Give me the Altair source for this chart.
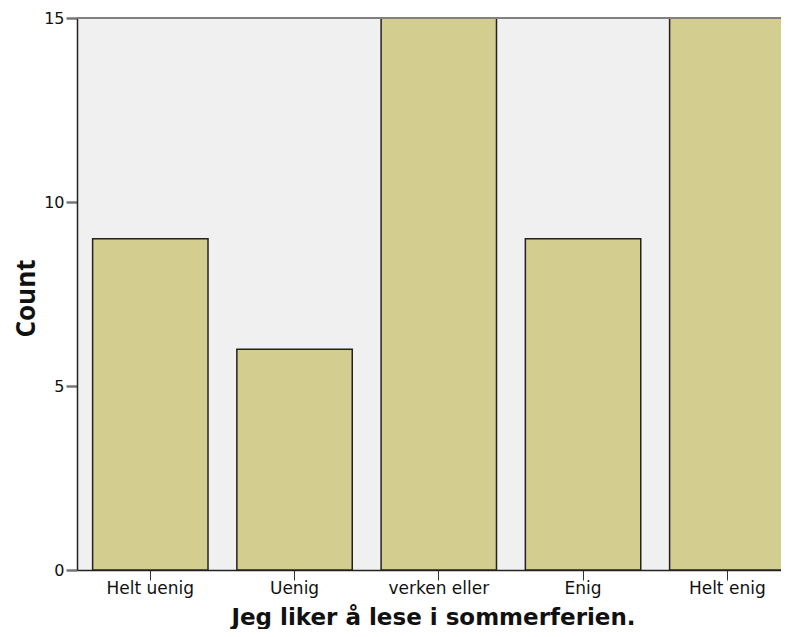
import altair as alt
import pandas as pd

categories = ["Helt uenig", "Uenig", "verken eller", "Enig", "Helt enig"]
counts = [9, 6, 15, 9, 15]
y_ticks = [0, 5, 10, 15]

df = pd.DataFrame({"cat": categories, "count": counts})

W = 704      # visible plot width (page is only 789 px wide)
RANGE = 712  # band range continues past the page edge, as in the cropped original
H = 552

bars = alt.Chart(df).mark_bar(
    fill="#d3cd8f", stroke="#222222", strokeWidth=1.5
).encode(
    x=alt.X("cat:N", sort=categories,
            scale=alt.Scale(range=[0, RANGE], paddingInner=0.2, paddingOuter=0.068,
                            align=0.796, round=False),
            axis=alt.Axis(title="Jeg liker å lese i sommerferien.", labelAngle=0,
                          labelFontSize=17, labelColor="#111", labelFont="DejaVu Sans",
                          titleFont="DejaVu Sans", titleFontSize=23, titleFontWeight="bold",
                          titleColor="#111", titleBaseline="alphabetic", titleY=54,
                          labelPadding=0,
                          domainColor="#222", domainWidth=1.5, tickColor="#333",
                          tickSize=10, tickWidth=1)),
    y=alt.Y("count:Q", scale=alt.Scale(domain=[0, 15], nice=False),
            axis=alt.Axis(title="Count", values=y_ticks, grid=False,
                          labelFontSize=16, labelColor="#111", labelFont="DejaVu Sans",
                          titleFont="Open Sans", titleFontSize=26, titleFontWeight="bold",
                          titleColor="#111", titleBaseline="alphabetic",
                          titleX=-43, titleY=H / 2 + 4, titleAngle=270,
                          labelPadding=2,
                          domainColor="#222", domainWidth=1.5, tickColor="#777",
                          tickSize=11, tickWidth=2.5)),
)

top_border = alt.Chart(df).mark_rule(color="#808080", strokeWidth=2).encode(
    x=alt.value(0), x2=alt.value(W), y=alt.value(0)
)

chart = alt.layer(bars, top_border).properties(
    width=W, height=H,
    autosize=alt.AutoSizeParams(type="none"),
    padding={"left": 69, "top": 10, "right": 0, "bottom": 59},
).configure_view(
    fill="#f0f0f0", stroke=None
)

chart.save("out.html", embed_options={"renderer": "svg", "actions": False})
